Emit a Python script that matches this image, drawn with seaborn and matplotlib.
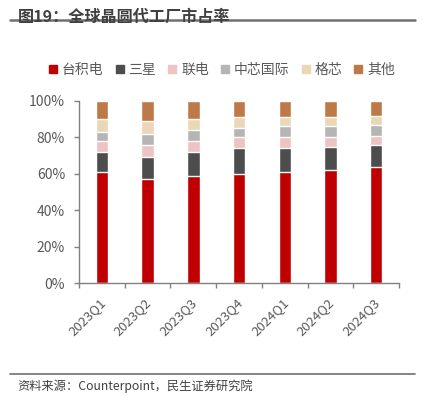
import matplotlib
matplotlib.use("Agg")
import matplotlib.pyplot as plt
import matplotlib.transforms as mtrans
import seaborn as sns
import numpy as np
import pandas as pd
from matplotlib.lines import Line2D
from matplotlib.ticker import PercentFormatter

quarters = ["2023Q1", "2023Q2", "2023Q3", "2023Q4", "2024Q1", "2024Q2", "2024Q3"]
series_names = ["台积电", "三星", "联电", "中芯国际", "格芯", "其他"]
tsmc    = [61, 57, 59, 60, 61, 62, 64]
samsung = [11, 12, 13, 14, 13, 13, 12]
umc     = [6, 7, 6, 6, 6, 5, 5]
smic    = [5, 6, 6, 5, 6, 6, 6]
gf      = [7, 7, 6, 6, 5, 5, 5]
others  = [10, 11, 10, 9, 9, 9, 8]
colors = ["#C00000", "#4D4D4D", "#EDC3C3", "#B5B5B5", "#EAD7B7", "#BD7A48"]

sns.set_theme(style="white")
plt.rcParams["font.family"] = ["Noto Sans CJK SC", "DejaVu Sans"]

values = [tsmc, samsung, umc, smic, gf, others]
cum = np.cumsum(np.array(values, dtype=float), axis=0) / 100.0

fig = plt.figure(figsize=(4.25, 3.96), dpi=100)
ax = fig.add_axes([0.186, 0.285, 0.753, 0.460])

for i in range(len(series_names) - 1, -1, -1):
    df = pd.DataFrame({"q": quarters, "v": cum[i]})
    sns.barplot(data=df, x="q", y="v", color=colors[i], width=0.27,
                edgecolor="white", linewidth=1.0, saturation=1, ax=ax)

ax.set_xlim(-0.5, 6.5)
ax.set_ylim(0, 1.0)
ax.set_xlabel("")
ax.set_ylabel("")
ax.yaxis.set_major_formatter(PercentFormatter(1.0, decimals=0))
ax.set_yticks(np.arange(0, 1.01, 0.2))

ax.set_xticks(np.arange(-0.5, 7, 1.0))
ax.set_xticklabels([])
ax.set_xticks(range(7), minor=True)
ax.set_xticklabels(quarters, minor=True, rotation=45, ha="right",
                   rotation_mode="anchor", fontsize=9.5, color="#595959")
ax.tick_params(axis="x", which="major", direction="out", length=3.6,
               color="#808080", width=1, bottom=True)
ax.tick_params(axis="x", which="minor", length=0, pad=9)
ax.tick_params(axis="y", direction="out", length=3.6, color="#808080",
               width=1, left=True, labelsize=10, labelcolor="#595959", pad=6.5)

offset = mtrans.ScaledTranslation(-0.03, 0, fig.dpi_scale_trans)
for lab in ax.get_xticklabels(minor=True):
    lab.set_transform(lab.get_transform() + offset)

for s in ["top", "right"]:
    ax.spines[s].set_visible(False)
for s in ["left", "bottom"]:
    ax.spines[s].set_color("#808080")
    ax.spines[s].set_linewidth(1)

handles = [Line2D([0], [0], marker="s", linestyle="", markersize=6,
                  markerfacecolor=c, markeredgecolor=c) for c in colors]
fig.legend(handles, series_names, loc="center", bbox_to_anchor=(0.519, 0.823),
           ncol=6, frameon=False, fontsize=10, handletextpad=0.15,
           columnspacing=0.65, labelcolor="#595959", handlelength=1.0)

fig.text(0.042, 0.978, "图19：全球晶圆代工厂市占率", fontsize=11.6, fontweight="bold",
         color="#404040", va="top", ha="left")
fig.add_artist(Line2D([0.023, 0.977], [0.949, 0.949], color="#707070", lw=1.8,
                      transform=fig.transFigure))
fig.add_artist(Line2D([0.023, 0.977], [0.056, 0.056], color="#707070", lw=1.2,
                      transform=fig.transFigure))
fig.text(0.042, 0.025, "资料来源：Counterpoint，民生证券研究院", fontsize=8.8,
         color="#404040", va="center", ha="left")

fig.savefig("out.png", dpi=100)
